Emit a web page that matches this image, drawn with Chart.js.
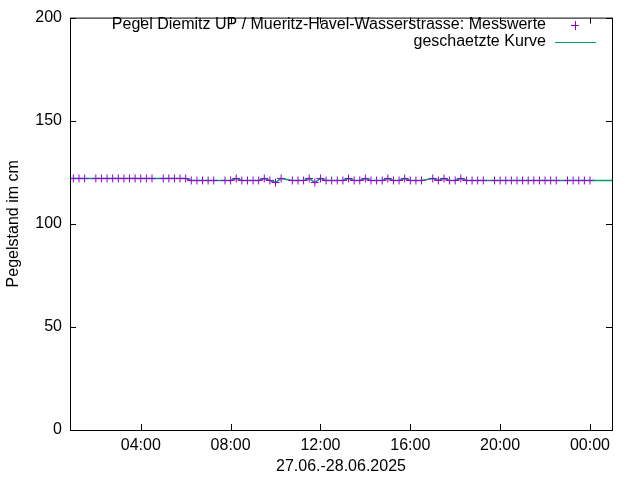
<!DOCTYPE html>
<html>
<head>
<meta charset="utf-8">
<script src="https://cdn.jsdelivr.net/npm/chart.js@4"></script>
<style>body{margin:0;background:#fff}#wrap{width:640px;height:480px}</style>
</head>
<body>
<div id="wrap"><canvas id="c" width="640" height="480"></canvas></div>
<script>
// hours since 27.06. 00:00, 15-min readings (null = missing)
const hours = [1,1.25,1.5,1.75,2,2.25,2.5,2.75,3,3.25,3.5,3.75,4,4.25,4.5,4.75,5,5.25,5.5,5.75,6,6.25,6.5,6.75,7,7.25,7.5,7.75,8,8.25,8.5,8.75,9,9.25,9.5,9.75,10,10.25,10.5,10.75,11,11.25,11.5,11.75,12,12.25,12.5,12.75,13,13.25,13.5,13.75,14,14.25,14.5,14.75,15,15.25,15.5,15.75,16,16.25,16.5,16.75,17,17.25,17.5,17.75,18,18.25,18.5,18.75,19,19.25,19.5,19.75,20,20.25,20.5,20.75,21,21.25,21.5,21.75,22,22.25,22.5,22.75,23,23.25,23.5,23.75,24];
const levels = [122,122,122,null,122,122,122,122,122,122,122,122,122,122,122,null,122,122,122,122,122,121,121,121,121,121,null,121,121,122,121,121,121,121,122,121,120,122,null,121,121,121,122,120,122,121,121,121,121,122,121,121,122,121,121,121,122,121,121,122,121,121,121,null,122,121,122,121,121,122,121,121,121,121,null,121,121,121,121,121,121,121,121,121,121,121,121,null,121,121,121,121,121];
const curveStart = 0.85, curveEnd = 24.98;
const xTicks = [4,8,12,16,20,24];
const yTicks = [0,50,100,150,200];

const measured = [];
hours.forEach((h, i) => { if (levels[i] !== null) measured.push({x: h, y: levels[i]}); });
const curve = [{x: curveStart, y: measured[0].y}].concat(measured, [{x: curveEnd, y: measured[measured.length - 1].y}]);

const fmt = h => String(h % 24).padStart(2, "0") + ":00";
const FONT = {family: "'Liberation Sans', Arial", size: 16};

const frame = {
  id: "frame",
  afterDraw(chart) {
    const ctx = chart.ctx, a = chart.chartArea, xs = chart.scales.x, ys = chart.scales.y;
    ctx.save();
    ctx.strokeStyle = "#000";
    ctx.lineWidth = 1;
    ctx.strokeRect(a.left + 0.5, a.top + 0.5, a.right - a.left, a.bottom - a.top);
    ctx.beginPath();
    xTicks.forEach(t => {
      const px = Math.round(xs.getPixelForValue(t)) + 0.5;
      ctx.moveTo(px, a.bottom); ctx.lineTo(px, a.bottom - 6);
      ctx.moveTo(px, a.top); ctx.lineTo(px, a.top + 6);
    });
    yTicks.forEach(t => {
      const py = Math.round(ys.getPixelForValue(t)) + 0.5;
      ctx.moveTo(a.left, py); ctx.lineTo(a.left + 6, py);
      ctx.moveTo(a.right, py); ctx.lineTo(a.right - 6, py);
    });
    ctx.stroke();
    // legend, gnuplot style
    ctx.font = "16px 'Liberation Sans', Arial, sans-serif";
    ctx.fillStyle = "#000";
    ctx.textAlign = "right";
    ctx.textBaseline = "middle";
    ctx.fillText("Pegel Diemitz UP / Mueritz-Havel-Wasserstrasse: Messwerte", 546, 25);
    ctx.fillText("geschaetzte Kurve", 546, 42);
    ctx.strokeStyle = "#9400d3";
    ctx.beginPath();
    ctx.moveTo(571, 25.5); ctx.lineTo(579, 25.5);
    ctx.moveTo(575.5, 21); ctx.lineTo(575.5, 30);
    ctx.stroke();
    ctx.strokeStyle = "#009e73";
    ctx.beginPath();
    ctx.moveTo(555, 42.5); ctx.lineTo(596, 42.5);
    ctx.stroke();
    ctx.restore();
  }
};

new Chart(document.getElementById("c"), {
  type: "scatter",
  data: {
    datasets: [
      {
        label: "geschaetzte Kurve",
        type: "line",
        data: curve,
        borderColor: "#009e73",
        borderWidth: 1.5,
        pointRadius: 0,
        tension: 0,
        order: 2
      },
      {
        label: "Messwerte",
        data: measured,
        pointStyle: "cross",
        pointRadius: 4,
        borderColor: "#9400d3",
        borderWidth: 1,
        order: 1
      }
    ]
  },
  options: {
    responsive: false,
    animation: false,
    layout: {padding: {top: 15, right: 28, left: 0, bottom: 0}},
    plugins: {legend: {display: false}, tooltip: {enabled: false}},
    scales: {
      x: {
        type: "linear",
        min: curveStart,
        max: curveEnd,
        afterBuildTicks: s => { s.ticks = xTicks.map(v => ({value: v})); },
        afterFit: s => { s.height = 50; },
        grid: {display: false, drawTicks: false},
        border: {display: false},
        ticks: {color: "#000", padding: 6, maxRotation: 0, font: FONT, callback: v => fmt(v)},
        title: {display: true, text: "27.06.-28.06.2025", color: "#000", padding: {top: 0}, font: FONT}
      },
      y: {
        min: 0,
        max: 200,
        afterBuildTicks: s => { s.ticks = yTicks.map(v => ({value: v})); },
        afterFit: s => { s.width = 70; },
        grid: {display: false, drawTicks: false},
        border: {display: false},
        ticks: {color: "#000", padding: 8, font: FONT},
        title: {display: true, text: "Pegelstand im cm", color: "#000", padding: {bottom: 4}, font: FONT}
      }
    }
  },
  plugins: [frame]
});
</script>
</body>
</html>
